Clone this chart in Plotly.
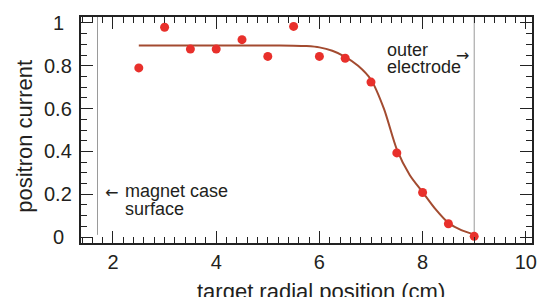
import plotly.graph_objects as go

# measured data points
positions = [2.5, 3.0, 3.5, 4.0, 4.5, 5.0, 5.5, 6.0, 6.5, 7.0, 7.5, 8.0, 8.5, 9.0]
current = [0.79, 0.98, 0.878, 0.878, 0.922, 0.844, 0.984, 0.844, 0.835, 0.724, 0.393, 0.208, 0.062, 0.003]

# fitted curve
fit_x = [2.5, 3.0, 3.5, 4.0, 4.5, 5.0, 5.5, 5.75, 6.0, 6.25, 6.5, 6.75, 7.0, 7.25, 7.5, 7.75, 8.0, 8.25, 8.5, 8.75, 9.0]
fit_y = [0.895, 0.895, 0.895, 0.895, 0.895, 0.895, 0.894, 0.892, 0.886, 0.87, 0.842, 0.80, 0.735, 0.60, 0.41, 0.29, 0.21, 0.13, 0.066, 0.032, 0.012]

# reference positions
magnet_case_x = 1.7
outer_electrode_x = 9.0

x_tick_vals = [2, 4, 6, 8, 10]
x_tick_text = ["2", "4", "6", "8", "10"]
y_tick_vals = [0, 0.2, 0.4, 0.6, 0.8, 1.0]
y_tick_text = ["0", "0.2", "0.4", "0.6", "0.8", "1"]

x_range = [1.38, 10.12]
y_range = [-0.028, 1.028]

FONT = "Arial, Liberation Sans, sans-serif"
TXT = "#231f20"

fig = go.Figure()

# vertical reference lines
fig.add_trace(go.Scatter(x=[magnet_case_x, magnet_case_x], y=[0.01, y_range[1]], mode="lines",
                         line=dict(color="#9a9a9a", width=1), hoverinfo="skip", showlegend=False))
fig.add_trace(go.Scatter(x=[outer_electrode_x, outer_electrode_x], y=[0.0, y_range[1]], mode="lines",
                         line=dict(color="#9a9a9a", width=1), hoverinfo="skip", showlegend=False))

fig.add_trace(go.Scatter(x=fit_x, y=fit_y, mode="lines",
                         line=dict(color="#a34b30", width=2, shape="spline", smoothing=0.8),
                         showlegend=False))
fig.add_trace(go.Scatter(x=positions, y=current, mode="markers",
                         marker=dict(color="#e8302b", size=9), showlegend=False))

annotations = []
for v, t in zip(y_tick_vals, y_tick_text):
    annotations.append(dict(x=0, xref="paper", y=v, yref="y", text=t, showarrow=False,
                            xanchor="center", yanchor="middle", xshift=-23,
                            font=dict(family=FONT, size=20, color=TXT)))

annotations += [
    dict(x=0.533, xref="paper", y=0, yref="paper", yanchor="top", yshift=-34,
         text="target radial position (cm)", showarrow=False,
         font=dict(family=FONT, size=22, color=TXT)),
    dict(x=0, xref="paper", xshift=-56, y=0.47, yref="paper", textangle=-90,
         text="positron current", showarrow=False, xanchor="center", yanchor="middle",
         font=dict(family=FONT, size=22, color=TXT)),
    dict(x=7.27, y=0.875, text="outer", showarrow=False, xanchor="left", yanchor="middle",
         font=dict(family=FONT, size=18, color=TXT)),
    dict(x=7.27, y=0.793, text="electrode", showarrow=False, xanchor="left", yanchor="middle",
         font=dict(family=FONT, size=18, color=TXT)),
    dict(x=8.77, y=0.85, text="→", showarrow=False, xanchor="center", yanchor="middle",
         font=dict(family="DejaVu Sans", size=16, color=TXT)),
    dict(x=1.97, y=0.209, text="←", showarrow=False, xanchor="center", yanchor="middle",
         font=dict(family="DejaVu Sans", size=16, color=TXT)),
    dict(x=2.2, y=0.214, text="magnet case", showarrow=False, xanchor="left", yanchor="middle",
         font=dict(family=FONT, size=18, color=TXT)),
    dict(x=2.2, y=0.132, text="surface", showarrow=False, xanchor="left", yanchor="middle",
         font=dict(family=FONT, size=18, color=TXT)),
]

axis_common = dict(showline=True, linecolor="#222", linewidth=1.5, mirror="ticks",
                   ticks="inside", ticklen=12, tickwidth=1.3, tickcolor="#222",
                   showgrid=False, zeroline=False, automargin=False)

fig.update_xaxes(range=x_range, tickvals=x_tick_vals, ticktext=x_tick_text,
                 tickfont=dict(family=FONT, size=20, color=TXT),
                 minor=dict(dtick=0.2, tick0=0, ticks="inside", ticklen=6, tickwidth=1.2,
                            tickcolor="#222", showgrid=False),
                 **axis_common)
fig.update_yaxes(range=y_range, tickvals=y_tick_vals, showticklabels=False,
                 minor=dict(dtick=0.05, tick0=0, ticks="inside", ticklen=6, tickwidth=1.2,
                            tickcolor="#222", showgrid=False),
                 **axis_common)

fig.update_layout(width=541, height=297, margin=dict(l=81, r=9, t=17, b=54, autoexpand=False),
                  plot_bgcolor="white", paper_bgcolor="white",
                  annotations=annotations, showlegend=False)

fig.write_html("out.html", config={"displayModeBar": False},
               post_script="document.body.style.margin='0';document.body.style.overflow='hidden';")
